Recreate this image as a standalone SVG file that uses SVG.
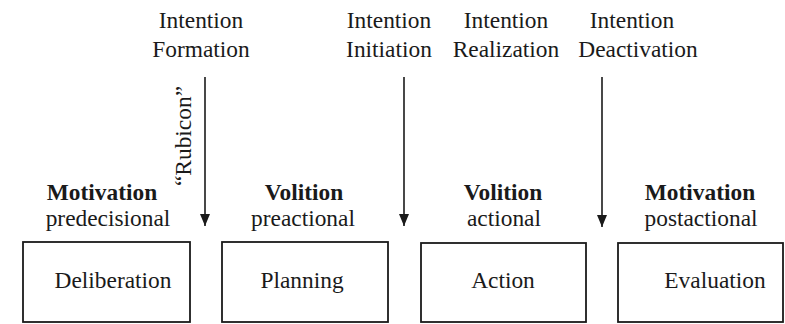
<svg xmlns="http://www.w3.org/2000/svg" width="785" height="324" viewBox="0 0 785 324">
<defs>
<style>
text{font-family:"Liberation Serif","Times New Roman",serif;font-size:23.4px;fill:#1a1a1a;text-anchor:middle}
.b{font-weight:bold}
.box{fill:#fff;stroke:#1a1a1a;stroke-width:1.8}
.arr{stroke:#1a1a1a;stroke-width:1.6;fill:none;marker-end:url(#ah)}
</style>
<marker id="ah" viewBox="0 0 12 10" refX="12" refY="5" markerWidth="12" markerHeight="10" markerUnits="userSpaceOnUse" orient="auto">
<path d="M0,0 L12,5 L0,10 Z" fill="#1a1a1a"/>
</marker>
</defs>
<rect width="785" height="324" fill="#fff"/>
<g id="labels-top">
<text x="201" y="28">Intention</text>
<text x="201" y="57">Formation</text>
<text x="389" y="28">Intention</text>
<text x="389" y="57">Initiation</text>
<text x="506" y="28">Intention</text>
<text x="506" y="57">Realization</text>
<text x="632" y="28">Intention</text>
<text x="638" y="57">Deactivation</text>
<text transform="translate(191,136) rotate(-90)" font-size="20.5">“Rubicon”</text>
</g>
<g id="connectors">
<line class="arr" x1="205" y1="77" x2="205" y2="226"/>
<line class="arr" x1="404" y1="77" x2="404" y2="226"/>
<line class="arr" x1="602" y1="77" x2="602" y2="227"/>
</g>
<g id="deliberation">
<text class="b" x="102" y="200">Motivation</text>
<text x="108" y="226">predecisional</text>
<rect class="box" x="23" y="242" width="167" height="80"/>
<text x="113" y="288">Deliberation</text>
</g>
<g id="planning">
<text class="b" x="304" y="200">Volition</text>
<text x="303" y="226">preactional</text>
<rect class="box" x="222" y="242" width="166" height="80"/>
<text x="302" y="288">Planning</text>
</g>
<g id="action">
<text class="b" x="503" y="200">Volition</text>
<text x="504" y="226">actional</text>
<rect class="box" x="421" y="243" width="165" height="79"/>
<text x="503" y="288">Action</text>
</g>
<g id="evaluation">
<text class="b" x="700" y="200">Motivation</text>
<text x="701" y="226">postactional</text>
<rect class="box" x="618" y="243" width="165" height="79"/>
<text x="715" y="288">Evaluation</text>
</g>
</svg>
